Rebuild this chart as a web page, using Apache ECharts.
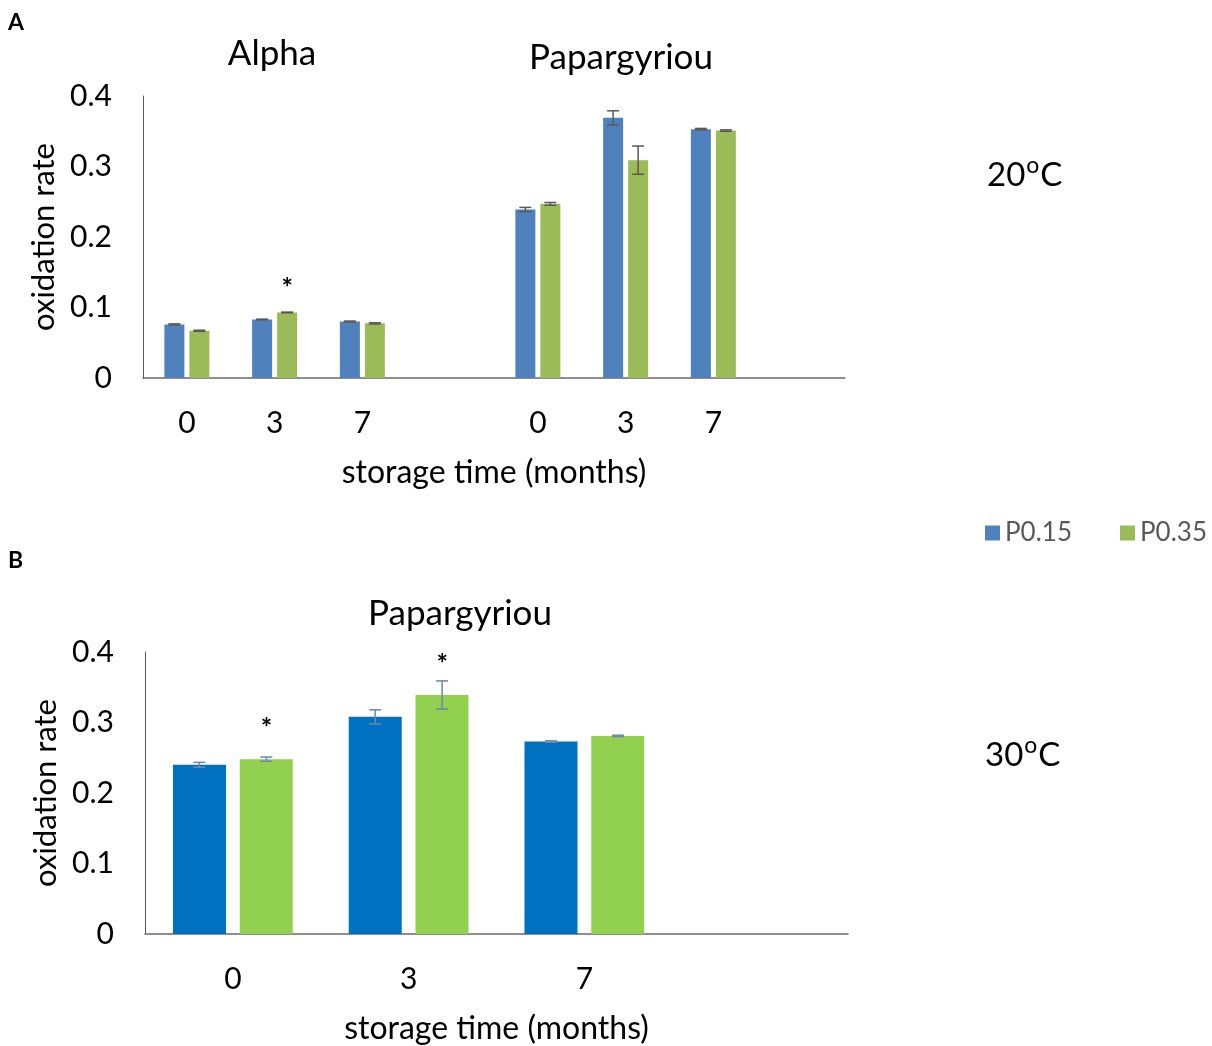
<!DOCTYPE html>
<html><head><meta charset="utf-8">
<script src="https://cdn.jsdelivr.net/npm/echarts@6/dist/echarts.min.js"></script>
<style>html,body{margin:0;padding:0;background:#fff}#c{width:1212px;height:1046px}</style>
</head><body><div id="c"></div>
<script>
// ---- data ----
const seriesNames = ['P0.15', 'P0.35'];
const yTicks = ['0', '0.1', '0.2', '0.3', '0.4'];
// Panel A (20°C): Alpha 0,3,7 | Papargyriou 0,3,7
const catsA = ['0', '3', '7', '', '0', '3', '7', ''];
const aP015 = [0.076, 0.083, 0.080, null, 0.239, 0.369, 0.353, null];
const aP035 = [0.067, 0.093, 0.0775, null, 0.247, 0.309, 0.351, null];
const aErr015 = [0.0008, 0.0005, 0.0008, null, 0.003, 0.010, 0.001, null];
const aErr035 = [0.0008, 0.0005, 0.0008, null, 0.002, 0.020, 0.001, null];
const aSig035 = [0, 1, 0, 0, 0, 0, 0, 0];
// Panel B (30°C): Papargyriou 0,3,7
const catsB = ['0', '3', '7', ''];
const bP015 = [0.240, 0.308, 0.273, null];
const bP035 = [0.248, 0.339, 0.281, null];
const bErr015 = [0.0035, 0.010, 0.001, null];
const bErr035 = [0.003, 0.020, 0.001, null];
const bSig035 = [1, 1, 0, 0];

const FONT = 'Lato, "Open Sans", sans-serif';

function errData(vals, errs, sig) {
  const out = [];
  vals.forEach((v, i) => { if (v != null) out.push([i, v, errs[i] || 0, sig ? sig[i] : 0]); });
  return out;
}
function errRender(offset, capHalf, color, starGap) {
  return function (params, api) {
    const i = api.value(0), v = api.value(1), e = api.value(2), s = api.value(3);
    const pt = api.coord([i, v + e]);
    const pb = api.coord([i, v - e]);
    const pv = api.coord([i, v]);
    const x = pt[0] + offset;
    const st = { stroke: color, lineWidth: 1.5 };
    const children = [
      { type: 'line', shape: { x1: x, y1: pt[1], x2: x, y2: pb[1] }, style: st },
      { type: 'line', shape: { x1: x - capHalf, y1: pt[1], x2: x + capHalf, y2: pt[1] }, style: st },
      { type: 'line', shape: { x1: x - capHalf, y1: pb[1], x2: x + capHalf, y2: pb[1] }, style: st }
    ];
    if (s) {
      children.push({ type: 'text', x: x, y: pv[1] - starGap,
        style: { text: '*', fontSize: 27, fontWeight: 'bold', fontFamily: FONT, fill: '#000', textAlign: 'center', textVerticalAlign: 'middle' } });
    }
    return { type: 'group', children };
  };
}

function yAxisCfg(gi) {
  return {
    gridIndex: gi, type: 'value', min: 0, max: 0.4, interval: 0.1,
    name: 'oxidation rate', nameLocation: 'middle', nameGap: 80, nameRotate: 90,
    nameTextStyle: { fontSize: 31, color: '#000', fontFamily: FONT },
    axisLine: { show: true, lineStyle: { color: '#595959', width: 1 } },
    axisTick: { show: false }, splitLine: { show: false },
    axisLabel: { fontSize: 30, color: '#000', fontFamily: FONT, margin: 31,
      formatter: v => yTicks[Math.round(v * 10)] }
  };
}
function xAxisCfg(gi, cats) {
  return {
    gridIndex: gi, type: 'category', data: cats,
    name: 'storage time (months)', nameLocation: 'middle', nameGap: 79,
    nameTextStyle: { fontSize: 32, color: '#000', fontFamily: FONT },
    axisLine: { lineStyle: { color: '#6a6a6a', width: 1.5 } },
    axisTick: { show: false },
    axisLabel: { fontSize: 30, color: '#000', fontFamily: FONT, margin: 30, interval: 0 }
  };
}

// temperature labels with superscript "o"
const measureCtx = document.createElement('canvas').getContext('2d');
function textW(t, size) { measureCtx.font = size + 'px ' + FONT; return measureCtx.measureText(t).width; }
function tempLabel(num, x, y) {
  const w1 = textW(num, 33), w2 = textW('o', 23);
  const base = { fontFamily: FONT, fill: '#000', textVerticalAlign: 'middle' };
  return [
    { type: 'text', x: x, y: y, style: Object.assign({ text: num, fontSize: 33 }, base) },
    { type: 'text', x: x + w1 + 1, y: y - 9, style: Object.assign({ text: 'o', fontSize: 23 }, base) },
    { type: 'text', x: x + w1 + w2 + 2, y: y, style: Object.assign({ text: 'C', fontSize: 33 }, base) }
  ];
}

const option = {
  animation: false,
  grid: [
    { left: 143, top: 96, width: 702, height: 282 },
    { left: 145, top: 652, width: 703, height: 284 }
  ],
  xAxis: [xAxisCfg(0, catsA), xAxisCfg(1, catsB)],
  yAxis: [yAxisCfg(0), yAxisCfg(1)],
  legend: {
    data: seriesNames, left: 980, top: 515, icon: 'rect', itemWidth: 15, itemHeight: 15,
    itemGap: 48, textStyle: { fontSize: 26, color: '#595959', fontFamily: FONT }
  },
  series: [
    { name: seriesNames[0], type: 'bar', xAxisIndex: 0, yAxisIndex: 0, data: aP015,
      barWidth: 20, barGap: '25%', itemStyle: { color: '#4F81BD' } },
    { name: seriesNames[1], type: 'bar', xAxisIndex: 0, yAxisIndex: 0, data: aP035,
      barWidth: 20, barGap: '25%', itemStyle: { color: '#9BBB59' } },
    { name: seriesNames[0], type: 'bar', xAxisIndex: 1, yAxisIndex: 1, data: bP015,
      barWidth: 53, barGap: '26%', itemStyle: { color: '#0070C0' } },
    { name: seriesNames[1], type: 'bar', xAxisIndex: 1, yAxisIndex: 1, data: bP035,
      barWidth: 53, barGap: '26%', itemStyle: { color: '#92D050' } },
    { type: 'custom', xAxisIndex: 0, yAxisIndex: 0, z: 5, data: errData(aP015, aErr015),
      renderItem: errRender(-12.5, 6, '#595959', 24) },
    { type: 'custom', xAxisIndex: 0, yAxisIndex: 0, z: 5, data: errData(aP035, aErr035, aSig035),
      renderItem: errRender(12.5, 6, '#595959', 24) },
    { type: 'custom', xAxisIndex: 1, yAxisIndex: 1, z: 5, data: errData(bP015, bErr015),
      renderItem: errRender(-33.5, 6, '#6F87A8', 31) },
    { type: 'custom', xAxisIndex: 1, yAxisIndex: 1, z: 5, data: errData(bP035, bErr035, bSig035),
      renderItem: errRender(33.5, 6, '#6F87A8', 31) }
  ],
  graphic: [
    { type: 'text', x: 8, y: 23, style: { text: 'A', fontSize: 23, fontWeight: 'bold', fontFamily: FONT, fill: '#000', textVerticalAlign: 'middle' } },
    { type: 'text', x: 8, y: 561, style: { text: 'B', fontSize: 23, fontWeight: 'bold', fontFamily: FONT, fill: '#000', textVerticalAlign: 'middle' } },
    { type: 'text', x: 272, y: 54, style: { text: 'Alpha', fontSize: 35, fontFamily: FONT, fill: '#000', textAlign: 'center', textVerticalAlign: 'middle' } },
    { type: 'text', x: 621, y: 58, style: { text: 'Papargyriou', fontSize: 35, fontFamily: FONT, fill: '#000', textAlign: 'center', textVerticalAlign: 'middle' } },
    { type: 'text', x: 460, y: 614, style: { text: 'Papargyriou', fontSize: 35, fontFamily: FONT, fill: '#000', textAlign: 'center', textVerticalAlign: 'middle' } }
  ].concat(tempLabel('20', 987, 175), tempLabel('30', 985, 755))
};
const chart = echarts.init(document.getElementById('c'), null, { renderer: 'canvas' });
chart.setOption(option);
</script>
</body></html>
